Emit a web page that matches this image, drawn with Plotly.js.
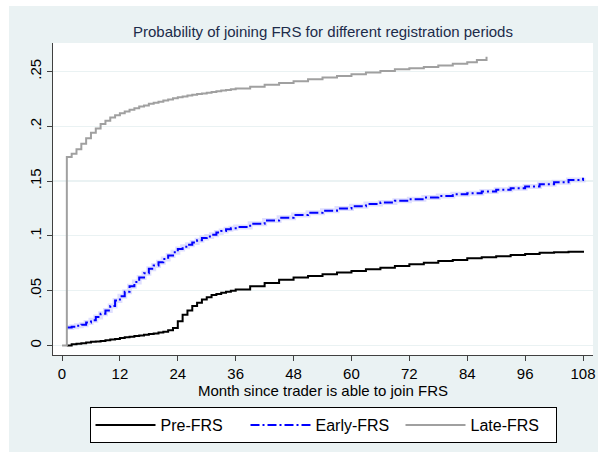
<!DOCTYPE html>
<html>
<head>
<meta charset="utf-8">
<script src="https://cdn.plot.ly/plotly-3.0.1.min.js"></script>
<style>html,body{margin:0;padding:0;background:#fff;}#chart{width:598px;height:452px;}</style>
</head>
<body>
<div id="chart"></div>
<script>
// Months since trader is able to join FRS
const preMonths = [1,2,3,4,5,6,7,8,9,10,11,12,13,14,15,16,17,18,19,20,21,22,23,24,25,26,27,28,29,30,31,32,33,34,35,36,39,42,45,48,51,54,57,60,63,66,69,72,75,78,81,84,87,90,93,96,99,102,105,108];
const preFRS = [0,0.001,0.0015,0.002,0.0028,0.0033,0.0037,0.004,0.0047,0.0055,0.006,0.0068,0.0075,0.008,0.0087,0.0092,0.0098,0.0104,0.011,0.0118,0.0125,0.0138,0.016,0.022,0.028,0.032,0.036,0.039,0.042,0.044,0.046,0.047,0.048,0.049,0.050,0.051,0.054,0.057,0.060,0.062,0.0635,0.065,0.0665,0.068,0.0695,0.071,0.0725,0.074,0.0755,0.077,0.078,0.0795,0.0805,0.0815,0.0825,0.0835,0.0845,0.085,0.0855,0.0865];

const earlyMonths = [1,2,3,4,5,6,7,8,9,10,11,12,13,14,15,16,17,18,19,20,21,22,23,24,25,26,27,28,29,30,31,32,33,34,35,36,39,42,45,48,51,54,57,60,63,66,69,72,75,78,81,84,87,90,93,96,99,102,105,108];
const earlyFRS = [0.0165,0.017,0.018,0.019,0.021,0.023,0.026,0.029,0.032,0.036,0.041,0.045,0.049,0.054,0.058,0.062,0.066,0.070,0.073,0.076,0.079,0.082,0.085,0.088,0.090,0.092,0.094,0.096,0.098,0.0995,0.101,0.103,0.1045,0.106,0.107,0.108,0.111,0.114,0.1165,0.119,0.121,0.123,0.125,0.127,0.129,0.1305,0.132,0.1335,0.135,0.1365,0.138,0.139,0.1405,0.142,0.1435,0.145,0.147,0.149,0.151,0.153];

const lateMonths = [0,1,2,3,4,5,6,7,8,9,10,11,12,13,14,15,16,17,18,19,20,21,22,23,24,25,26,27,28,29,30,31,32,33,34,35,36,39,42,45,48,51,54,57,60,63,66,69,72,75,78,81,84,86,88];
const lateFRS = [0,0.172,0.175,0.179,0.184,0.189,0.194,0.198,0.202,0.205,0.208,0.210,0.212,0.2135,0.215,0.2165,0.218,0.219,0.2205,0.2215,0.2225,0.2235,0.2245,0.2255,0.2265,0.2272,0.228,0.2287,0.2294,0.230,0.2307,0.2313,0.232,0.2326,0.2332,0.2338,0.2344,0.236,0.2378,0.2395,0.2412,0.243,0.2445,0.246,0.2475,0.249,0.2505,0.252,0.253,0.2542,0.2555,0.257,0.2585,0.2605,0.2635];

const xTickVals = [0,12,24,36,48,60,72,84,96,108];
const yTickVals = [0,0.05,0.1,0.15,0.2,0.25];
const yTickText = ['0','.05','.1','.15','.2','.25'];

const FONT = '"Liberation Sans", Arial, sans-serif';
const BG = '#EAF2F3';

const traces = [
  {x: preMonths, y: preFRS, type:'scatter', mode:'lines', name:'Pre-FRS',
   line:{color:'#000000', width:2, shape:'hv'}},
  {x: earlyMonths, y: earlyFRS, type:'scatter', mode:'lines', name:'halo', showlegend:false, hoverinfo:'skip',
   line:{color:'rgba(185,185,255,0.45)', width:5, shape:'hv'}},
  {x: earlyMonths, y: earlyFRS, type:'scatter', mode:'lines', name:'Early-FRS',
   line:{color:'#0000FF', width:2, shape:'hv', dash:'9px,3px,2px,3px'}},
  {x: lateMonths, y: lateFRS, type:'scatter', mode:'lines', name:'Late-FRS',
   line:{color:'#A0A0A0', width:2, shape:'hv'}}
];

const layout = {
  width: 598, height: 452,
  paper_bgcolor: BG, plot_bgcolor: '#FFFFFF',
  margin: {l:53, r:5, t:43, b:97, pad:0, autoexpand:false},
  font: {family: FONT, color:'#000'},
  title: {text:'Probability of joining FRS for different registration periods',
          font:{family:FONT, size:15, color:'#1C2B4A'}, x:0.5, xref:'paper', xanchor:'center',
          y: 1 - 32/452, yref:'container', yanchor:'middle'},
  xaxis: {range:[-1.87, 110.07], tickvals:xTickVals, ticks:'outside', ticklen:5, tickwidth:1, tickcolor:'#404040',
          showline:true, linecolor:'#404040', linewidth:1.3, showgrid:false, zeroline:false,
          tickfont:{size:15, color:'#000'},
          title:{text:'Month since trader is able to join FRS', font:{size:15, color:'#000'}, standoff:1}},
  yaxis: {range:[-0.0087, 0.2760], tickvals:yTickVals, ticktext:yTickText, tickangle:-90,
          ticks:'outside', ticklen:5, tickwidth:1, tickcolor:'#404040',
          showline:true, linecolor:'#404040', linewidth:1.3, showgrid:true, gridcolor:BG, gridwidth:1.2,
          zeroline:false, tickfont:{size:15, color:'#000'}},
  showlegend: true,
  legend: {orientation:'h', x:0.5, xanchor:'center', y:-0.1667, yanchor:'top',
           bgcolor:'#FFFFFF', bordercolor:'#000000', borderwidth:1,
           font:{size:16, color:'#000'}, itemwidth:60, entrywidth:80, traceorder:'normal'},
  shapes: [
    {type:'rect', xref:'paper', yref:'paper', x0:-0.1, x1:1.02, y0:1.1186, y1:1.15, fillcolor:'#FFFFFF', line:{width:0}, layer:'below'},
    {type:'rect', xref:'paper', yref:'paper', x0:-0.1, x1:-0.08148, y0:-0.32, y1:1.15, fillcolor:'#FFFFFF', line:{width:0}, layer:'below'}
  ]
};

Plotly.newPlot('chart', traces, layout, {displayModeBar:false, staticPlot:true});
</script>
</body>
</html>
